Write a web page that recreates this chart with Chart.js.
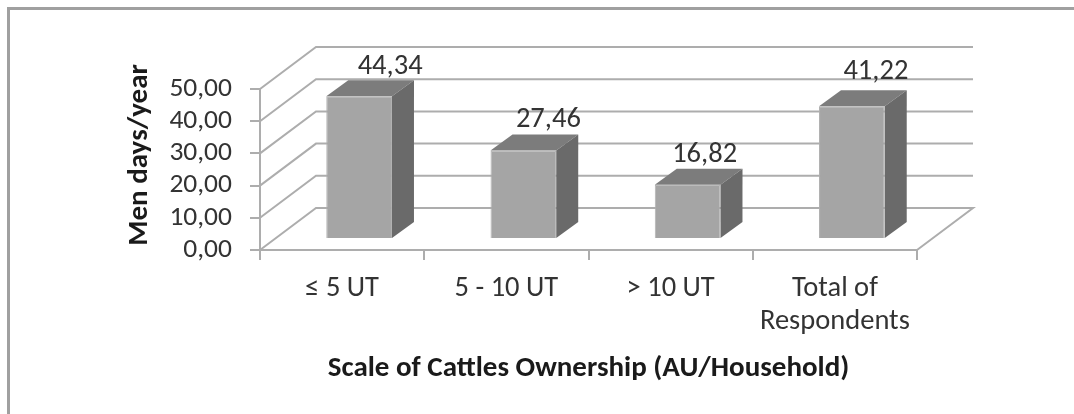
<!DOCTYPE html>
<html>
<head>
<meta charset="utf-8">
<style>
  html, body { margin: 0; padding: 0; background: #fff; overflow: hidden; }
  #wrap { position: absolute; left: 0; top: 0; width: 1074px; height: 414px; overflow: hidden; }
  #frame { position: absolute; left: 7px; top: 7px; right: 0; bottom: 0; border-top: 3px solid #a0a0a0; border-left: 3px solid #a0a0a0; }
  canvas { position: absolute; left: 0; top: 0; filter: blur(0.5px); }
</style>
</head>
<body>
<div id="wrap">
  <div id="frame"></div>
  <canvas id="chart" width="1074" height="414"></canvas>
</div>
<script src="https://cdn.jsdelivr.net/npm/chart.js@4/dist/chart.umd.min.js"></script>
<script>
const categories = ["≤ 5 UT", "5 - 10 UT", "> 10 UT", ["Total of", "Respondents"]];
const menDays = [44.34, 27.46, 16.82, 41.22];
const yTicks = [0, 10, 20, 30, 40, 50];
const yTitle = "Men days/year";
const xTitle = "Scale of Cattles Ownership (AU/Household)";

const fontName = "Carlito, Calibri, 'Open Sans', 'Noto Sans', sans-serif";
const gridColor = "#adadad";
// depth of the fake 3D box, and how far the bars sit inside it
const wall = { x: 56, y: -42 };
const inset = { x: 17, y: -11 };
const side = { x: 22, y: -16 };
// value labels were dragged by hand in the original
const labelNudge = [[31, -22], [25, -24], [17, -23], [24, -27]];
const comma = (v) => v.toFixed(2).replace(".", ",");

const box3d = {
  id: "box3d",
  beforeDatasetsDraw(chart) {
    const { ctx, scales } = chart;
    const left = scales.x.left;
    const right = scales.x.right;
    ctx.save();
    ctx.strokeStyle = gridColor;
    ctx.lineWidth = 2;
    yTicks.forEach((t) => {
      const y = scales.y.getPixelForValue(t);
      ctx.beginPath();
      ctx.moveTo(left, y);
      ctx.lineTo(left + wall.x, y + wall.y);
      ctx.lineTo(right + wall.x, y + wall.y);
      if (t === 0) ctx.lineTo(right, y);
      ctx.stroke();
    });
    ctx.restore();

    // bars and their side faces sit a little way into the floor
    ctx.save();
    ctx.translate(inset.x, inset.y);
    chart.getDatasetMeta(0).data.forEach((bar) => {
      const x1 = bar.x + bar.width / 2;
      const x0 = bar.x - bar.width / 2;
      ctx.fillStyle = "#7c7c7c";
      ctx.beginPath();
      ctx.moveTo(x0, bar.y);
      ctx.lineTo(x0 + side.x, bar.y + side.y);
      ctx.lineTo(x1 + side.x, bar.y + side.y);
      ctx.lineTo(x1, bar.y);
      ctx.closePath();
      ctx.fill();
      ctx.fillStyle = "#6a6a6a";
      ctx.beginPath();
      ctx.moveTo(x1, bar.y);
      ctx.lineTo(x1 + side.x, bar.y + side.y);
      ctx.lineTo(x1 + side.x, bar.base + side.y);
      ctx.lineTo(x1, bar.base);
      ctx.closePath();
      ctx.fill();
    });
  },
  afterDatasetsDraw(chart) {
    const { ctx, scales } = chart;
    ctx.restore();
    ctx.save();
    ctx.fillStyle = "#333";
    ctx.font = "28.5px " + fontName;
    ctx.textAlign = "center";
    ctx.textBaseline = "alphabetic";
    chart.getDatasetMeta(0).data.forEach((bar, i) => {
      const [dx, dy] = labelNudge[i];
      ctx.fillText(comma(menDays[i]), bar.x + inset.x + dx, bar.y + inset.y + dy);
    });
    // y title sits above the middle of the axis, so it is placed by hand
    ctx.translate(scales.y.left + 12, scales.y.getPixelForValue(29.5));
    ctx.rotate(-Math.PI / 2);
    ctx.textBaseline = "middle";
    ctx.fillStyle = "#1a1a1a";
    ctx.font = "bold 29px " + fontName;
    ctx.fillText(yTitle, 0, 0);
    ctx.restore();
  },
};

new Chart(document.getElementById("chart"), {
  type: "bar",
  data: {
    labels: categories,
    datasets: [
      {
        data: menDays,
        backgroundColor: "#a5a5a5",
        borderColor: "#b0b0b0",
        borderWidth: 1,
        categoryPercentage: 0.4,
        barPercentage: 1,
      },
    ],
  },
  plugins: [box3d],
  options: {
    responsive: false,
    animation: false,
    layout: { padding: { left: 128, right: 157, top: 89, bottom: 0 } },
    plugins: { legend: { display: false }, tooltip: { enabled: false } },
    scales: {
      x: {
        type: "category",
        position: "bottom",
        grid: { offset: true, display: true, drawOnChartArea: false, drawTicks: true, tickLength: 10, color: gridColor, lineWidth: 2 },
        border: { color: gridColor, width: 2 },
        ticks: { color: "#333", font: { size: 28.5, family: fontName, lineHeight: 1.16 }, maxRotation: 0, autoSkip: false, padding: 12 },
        title: { display: true, text: xTitle, color: "#1a1a1a", font: { size: 29, weight: "bold", family: fontName }, padding: { top: 0, bottom: 28 } },
        afterFit(axis) {
          axis.height = 164;
        },
      },
      y: {
        min: 0,
        max: 50,
        afterBuildTicks(axis) {
          axis.ticks = yTicks.map((value) => ({ value }));
        },
        grid: { drawOnChartArea: false, drawTicks: true, tickLength: 10, color: gridColor, lineWidth: 2 },
        border: { color: gridColor, width: 2 },
        ticks: { color: "#333", font: { size: 27.5, family: fontName }, padding: 18, autoSkip: false, callback: (v) => comma(v) },
        afterFit(axis) {
          axis.width = 132;
        },
      },
    },
  },
});
</script>
</body>
</html>
